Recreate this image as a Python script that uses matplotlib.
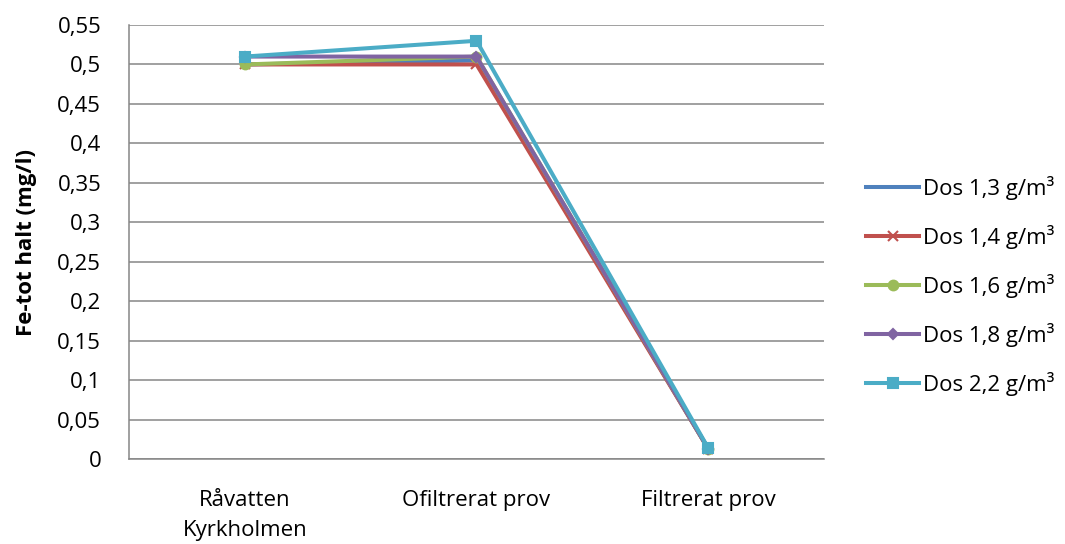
import matplotlib
matplotlib.use("Agg")
import matplotlib.pyplot as plt

plt.rcParams['font.family'] = ['Open Sans', 'DejaVu Sans']

categories = ["Råvatten\nKyrkholmen", "Ofiltrerat prov", "Filtrerat prov"]
series_names = ["Dos 1,3 g/m³", "Dos 1,4 g/m³", "Dos 1,6 g/m³", "Dos 1,8 g/m³", "Dos 2,2 g/m³"]
dos_13 = [0.50, 0.505, 0.013]
dos_14 = [0.50, 0.50, 0.013]
dos_16 = [0.50, 0.51, 0.013]
dos_18 = [0.51, 0.51, 0.013]
dos_22 = [0.51, 0.53, 0.014]
series_values = [dos_13, dos_14, dos_16, dos_18, dos_22]
yticks = [0, 0.05, 0.1, 0.15, 0.2, 0.25, 0.3, 0.35, 0.4, 0.45, 0.5, 0.55]

colors = ["#4F81BD", "#C0504D", "#9BBB59", "#8064A2", "#4BACC6"]
markers = [None, "x", "o", "D", "s"]
msizes = [0, 7, 7, 5.5, 7.5]

FS = 16

fig = plt.figure(figsize=(10.65, 5.44), dpi=100)
ax = fig.add_axes([129 / 1065, 85 / 544, 695 / 1065, 434 / 544])

x = list(range(len(categories)))
handles = []
for name, vals, c, m, ms in zip(series_names, series_values, colors, markers, msizes):
    h, = ax.plot(x, vals, color=c, lw=2.9, marker=m, markersize=ms,
                 markeredgecolor=c, markerfacecolor=c, markeredgewidth=1.5,
                 label=name, zorder=3)
    handles.append(h)

ax.set_xlim(-0.5, 2.5)
ax.set_ylim(0, 0.55)
ax.set_yticks(yticks)
ax.set_yticklabels([("%g" % v).replace(".", ",") for v in yticks])
ax.set_xticks(x)
ax.set_xticklabels(categories, linespacing=1.6)
ax.tick_params(axis='both', length=0, labelsize=FS, colors='black')
ax.tick_params(axis='y', pad=20)
ax.tick_params(axis='x', pad=22)
ax.yaxis.grid(True, color='#868686', lw=1.1)
ax.set_axisbelow(True)
for side in ['top', 'right']:
    ax.spines[side].set_visible(False)
for side in ['left', 'bottom']:
    ax.spines[side].set_color('#868686')
    ax.spines[side].set_linewidth(1.1)

ax.set_ylabel("Fe-tot halt (mg/l)", fontsize=FS, fontweight='bold', labelpad=15)

fig.legend(handles=handles, loc='center left',
           bbox_to_anchor=(866 / 1065, (544 - 286) / 544),
           frameon=False, fontsize=FS, handlelength=2.4, handletextpad=0.15,
           labelspacing=1.12, borderpad=0, borderaxespad=0)

fig.savefig("out.png", dpi=100)
